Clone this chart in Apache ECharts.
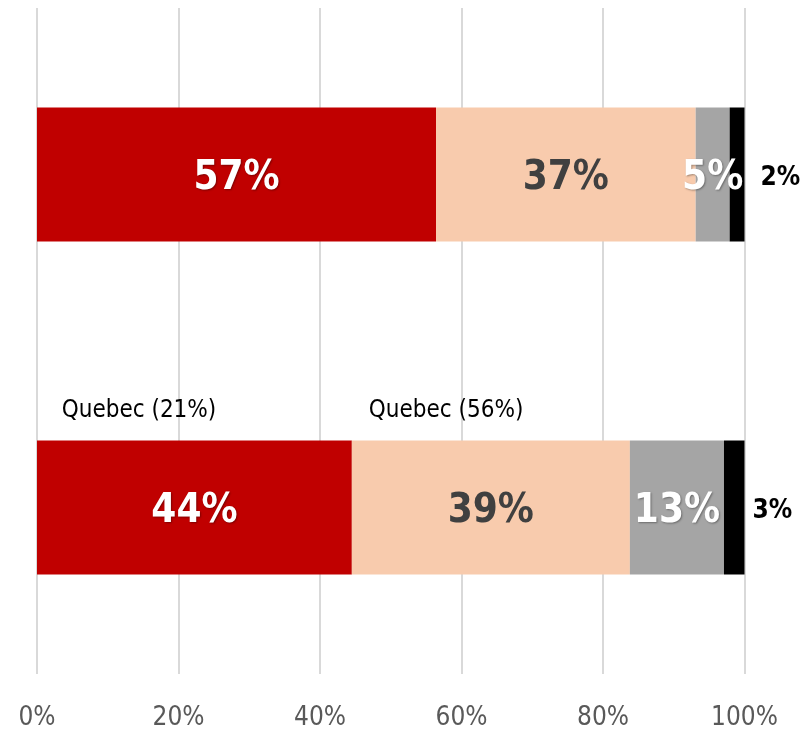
<!DOCTYPE html>
<html>
<head>
<meta charset="utf-8">
<script src="https://cdn.jsdelivr.net/npm/echarts@6/dist/echarts.min.js"></script>
<style>
html,body{margin:0;padding:0;background:#fff;}
#chart{width:802px;height:733px;}
</style>
</head>
<body>
<div id="chart"></div>
<script>
// Data
const categories = ['Bar 1', 'Bar 2'];
const seriesNames = ['Segment 1', 'Segment 2', 'Segment 3', 'Segment 4'];
const seg1Values = [56.4, 44.5];
const seg2Values = [36.7, 39.3];
const seg3Values = [4.8, 13.3];
const seg4Values = [2.1, 2.9];
const seg1Labels = ['57%', '44%'];
const seg2Labels = ['37%', '39%'];
const seg3Labels = ['5%', '13%'];
const seg4Labels = ['2%', '3%'];
const tickValues = [0, 20, 40, 60, 80, 100];
const annotations = [
  { text: 'Quebec (21%)', x: 3.5, category: 'Bar 2' },
  { text: 'Quebec (56%)', x: 46.9, category: 'Bar 2' }
];

const FONT = "'Liberation Sans Narrow', 'DejaVu Sans Condensed', 'Liberation Sans', sans-serif";
const colors = ['#C00000', '#F8CBAD', '#A5A5A5', '#000000'];
const labelColors = ['#FFFFFF', '#404040', '#FFFFFF', '#000000'];
const allValues = [seg1Values, seg2Values, seg3Values, seg4Values];
const allLabels = [seg1Labels, seg2Labels, seg3Labels, seg4Labels];
const outsideDistance = [16, 8];

const chart = echarts.init(document.getElementById('chart'), null, { renderer: 'canvas' });

const series = allValues.map((vals, si) => {
  const isLast = si === 3;
  return {
    name: seriesNames[si],
    type: 'bar',
    stack: 'total',
    barWidth: 134,
    itemStyle: { color: colors[si] },
    data: vals.map((v, i) => {
      const item = { value: v };
      if (isLast) item.label = { distance: outsideDistance[i] };
      return item;
    }),
    label: {
      show: true,
      position: isLast ? 'right' : 'inside',
      offset: [0, 4],
      formatter: p => allLabels[si][p.dataIndex],
      color: labelColors[si],
      fontFamily: FONT,
      fontWeight: 'bold',
      fontSize: isLast ? 26 : 40,
      textShadowColor: isLast || si === 1 ? 'transparent' : 'rgba(0,0,0,0.35)',
      textShadowBlur: 2,
      textShadowOffsetX: 1,
      textShadowOffsetY: 1
    },
    markPoint: si === 0 ? {
      symbol: 'rect',
      symbolSize: 0,
      data: annotations.map(a => ({
        coord: [a.x, a.category],
        label: {
          show: true,
          formatter: a.text,
          position: 'right',
          distance: 0,
          offset: [0, -97],
          color: '#000000',
          fontFamily: FONT,
          fontSize: 24,
          fontWeight: 'normal'
        }
      }))
    } : undefined
  };
});

chart.setOption({
  animation: false,
  backgroundColor: '#FFFFFF',
  grid: { left: 37, right: 57.5, top: 8, bottom: 59, containLabel: false },
  xAxis: {
    type: 'value',
    min: 0,
    max: 100,
    interval: 20,
    axisLine: { show: false },
    axisTick: { show: false },
    splitLine: { show: true, lineStyle: { color: '#D9D9D9', width: 2 } },
    axisLabel: {
      formatter: v => tickValues.includes(v) ? v + '%' : '',
      color: '#595959',
      fontFamily: FONT,
      fontSize: 26,
      margin: 31
    }
  },
  yAxis: {
    type: 'category',
    data: categories,
    inverse: true,
    axisLine: { show: false },
    axisTick: { show: false },
    axisLabel: { show: false },
    splitLine: { show: false }
  },
  series: series
});
</script>
</body>
</html>
